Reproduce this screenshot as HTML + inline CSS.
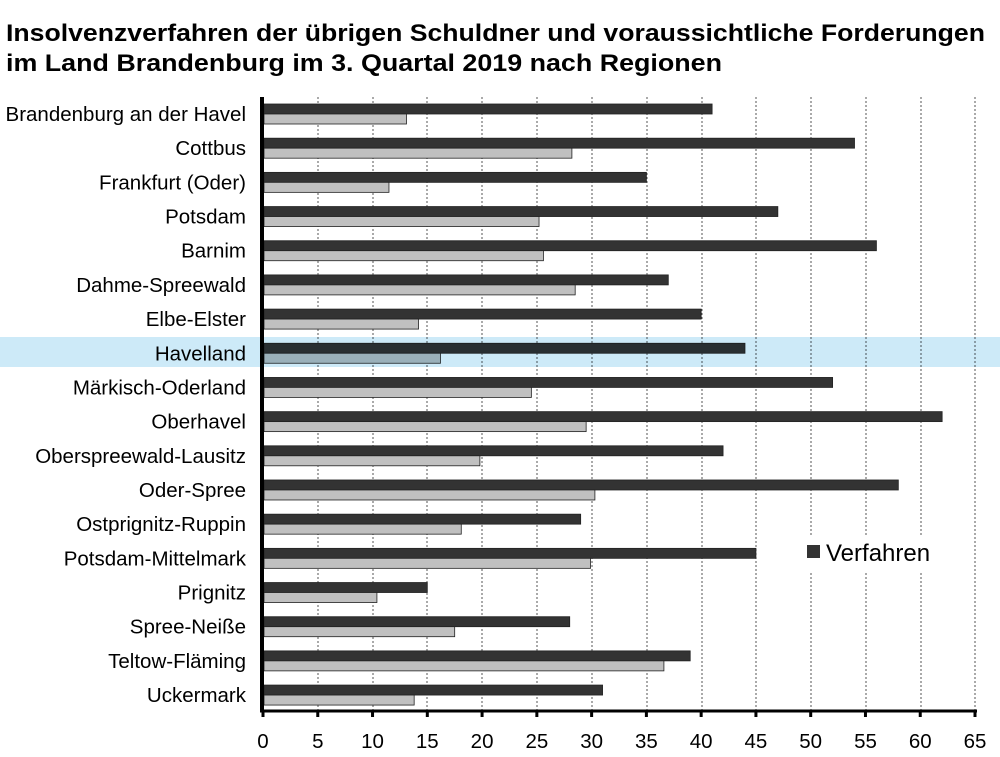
<!DOCTYPE html>
<html><head><meta charset="utf-8"><style>body{margin:0;background:#fff}svg{display:block}</style></head><body>
<svg width="1000" height="757" xmlns="http://www.w3.org/2000/svg" font-family="Liberation Sans, sans-serif">
<text x="6" y="41" font-size="24" font-weight="bold" textLength="979" lengthAdjust="spacingAndGlyphs">Insolvenzverfahren der übrigen Schuldner und voraussichtliche Forderungen</text>
<text x="6" y="71" font-size="24" font-weight="bold" textLength="716" lengthAdjust="spacingAndGlyphs">im Land Brandenburg im 3. Quartal 2019 nach Regionen</text>
<g stroke="#555" stroke-width="1" stroke-dasharray="2,2">
<line x1="318" y1="97" x2="318" y2="710"/><line x1="373" y1="97" x2="373" y2="710"/><line x1="427" y1="97" x2="427" y2="710"/><line x1="482" y1="97" x2="482" y2="710"/><line x1="537" y1="97" x2="537" y2="710"/><line x1="592" y1="97" x2="592" y2="710"/><line x1="647" y1="97" x2="647" y2="710"/><line x1="702" y1="97" x2="702" y2="710"/><line x1="756" y1="97" x2="756" y2="710"/><line x1="811" y1="97" x2="811" y2="710"/><line x1="866" y1="97" x2="866" y2="710"/><line x1="921" y1="97" x2="921" y2="710"/><line x1="975" y1="97" x2="975" y2="710"/>
</g>
<rect x="800" y="535" width="150" height="36" fill="#fff"/>
<g id="bars" stroke="#222" stroke-width="0.8"></g>
<g id="labels" font-size="20.5" text-anchor="end"></g>
<line x1="262" y1="97" x2="262" y2="712" stroke="#000" stroke-width="4"/>
<line x1="260" y1="711" x2="977" y2="711" stroke="#000" stroke-width="3"/>
<g id="ticks" font-size="20.5" text-anchor="middle"></g>
<rect x="807" y="545" width="13" height="13" fill="#333"/>
<text x="826" y="561" font-size="24">Verfahren</text>
<rect x="0" y="337" width="1000" height="30" fill="#cdeaf8" style="mix-blend-mode:multiply"/>
<script>
var n=["Brandenburg an der Havel","Cottbus","Frankfurt (Oder)","Potsdam","Barnim","Dahme-Spreewald","Elbe-Elster","Havelland","Märkisch-Oderland","Oberhavel","Oberspreewald-Lausitz","Oder-Spree","Ostprignitz-Ruppin","Potsdam-Mittelmark","Prignitz","Spree-Neiße","Teltow-Fläming","Uckermark"];
var d=[41,54,35,47,56,37,40,44,52,62,42,58,29,45,15,28,39,31];
var l=[13.1,28.2,11.5,25.2,25.6,28.5,14.2,16.2,24.5,29.5,19.8,30.3,18.1,29.9,10.4,17.5,36.6,13.8];
var ns="http://www.w3.org/2000/svg",b=document.getElementById("bars"),lb=document.getElementById("labels"),tk=document.getElementById("ticks");
function el(t,a,p,txt){var e=document.createElementNS(ns,t);for(var k in a)e.setAttribute(k,a[k]);if(txt)e.textContent=txt;p.appendChild(e);}
var u=10.954,x0=263;
for(var i=0;i<18;i++){var y=104+i*34.18;
el("rect",{x:264,y:y,width:x0+d[i]*u-264,height:10,fill:"#333"},b);
el("rect",{x:264,y:y+10,width:x0+l[i]*u-264,height:10,fill:"#c0c0c0"},b);
el("text",{x:246,y:y+17},lb,n[i]);}
for(var j=0;j<=13;j++){var x=x0+j*5*u;el("line",{x1:x,y1:710,x2:x,y2:717,stroke:"#000","stroke-width":3},tk);el("text",{x:x,y:748},tk,String(j*5));}
</script>
</svg>
</body></html>
